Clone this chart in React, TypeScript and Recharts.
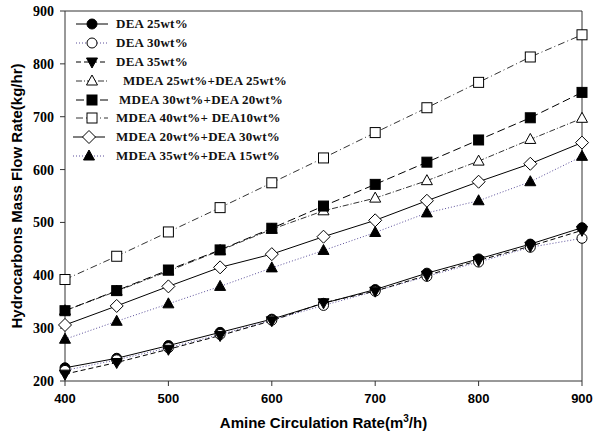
import * as React from "react";
import { Line, LineChart, ReferenceLine, XAxis, YAxis } from "recharts";

const rates = [400, 450, 500, 550, 600, 650, 700, 750, 800, 850, 900];
const dea25 = [225, 243, 267, 292, 317, 347, 373, 404, 431, 459, 490];
const dea30 = [220, 240, 263, 288, 315, 343, 370, 398, 425, 453, 470];
const dea35 = [213, 235, 260, 286, 314, 348, 370, 400, 428, 455, 485];
const mdea25dea25 = [333, 370, 408, 447, 487, 522, 546, 579, 616, 657, 697];
const mdea30dea20 = [333, 371, 410, 448, 489, 531, 572, 614, 656, 698, 746];
const mdea40dea10 = [392, 436, 482, 528, 575, 622, 670, 717, 765, 813, 855];
const mdea20dea30 = [306, 342, 379, 415, 440, 473, 504, 541, 577, 611, 651];
const mdea35dea15 = [279, 313, 346, 379, 414, 447, 481, 518, 541, 577, 625];

const xTicks = [400, 500, 600, 700, 800, 900];
const yTicks = [200, 300, 400, 500, 600, 700, 800, 900];

type Shape = "circle" | "triangleUp" | "triangleDown" | "square" | "diamond";

// lineShift / textShift only nudge the hand-made legend rows
const series = [
  { key: "dea25", name: "DEA 25wt%", values: dea25, shape: "circle" as Shape, filled: true, color: "#000", dash: "", lineShift: 0, textShift: 0 },
  { key: "dea30", name: "DEA 30wt%", values: dea30, shape: "circle" as Shape, filled: false, color: "#5b4f9a", dash: "1 2", lineShift: 0, textShift: 0 },
  { key: "dea35", name: "DEA 35wt%", values: dea35, shape: "triangleDown" as Shape, filled: true, color: "#000", dash: "5 3", lineShift: 0, textShift: 0 },
  { key: "m25d25", name: "MDEA 25wt%+DEA 25wt%", values: mdea25dea25, shape: "triangleUp" as Shape, filled: false, color: "#333", dash: "6 2 1 2", lineShift: 0, textShift: 7 },
  { key: "m30d20", name: "MDEA 30wt%+DEA 20wt%", values: mdea30dea20, shape: "square" as Shape, filled: true, color: "#000", dash: "8 4", lineShift: 0, textShift: 3 },
  { key: "m40d10", name: "MDEA 40wt%+ DEA10wt%", values: mdea40dea10, shape: "square" as Shape, filled: false, color: "#333", dash: "7 3 1 3", lineShift: 0, textShift: 0 },
  { key: "m20d30", name: "MDEA 20wt%+DEA 30wt%", values: mdea20dea30, shape: "diamond" as Shape, filled: false, color: "#000", dash: "", lineShift: -3, textShift: 0 },
  { key: "m35d15", name: "MDEA 35wt%+DEA 15wt%", values: mdea35dea15, shape: "triangleUp" as Shape, filled: true, color: "#5b4f9a", dash: "1 2", lineShift: -3, textShift: 0 },
];

const data = rates.map((rate, i) => {
  const row: Record<string, number> = { rate };
  series.forEach((s) => {
    row[s.key] = s.values[i];
  });
  return row;
});

const Marker = ({ cx, cy, shape, filled }: { cx: number; cy: number; shape: Shape; filled: boolean }) => {
  const fill = filled ? "#000" : "#fff";
  const common = { fill, stroke: "#000", strokeWidth: 1 };
  switch (shape) {
    case "circle":
      return <circle cx={cx} cy={cy} r={5} {...common} />;
    case "triangleUp":
      return <polygon points={`${cx},${cy - 6} ${cx - 5.5},${cy + 4} ${cx + 5.5},${cy + 4}`} {...common} />;
    case "triangleDown":
      return <polygon points={`${cx},${cy + 6} ${cx - 5.5},${cy - 4} ${cx + 5.5},${cy - 4}`} {...common} />;
    case "square":
      return <rect x={cx - 5} y={cy - 5} width={10} height={10} {...common} />;
    case "diamond":
      return <polygon points={`${cx},${cy - 6.5} ${cx + 6.5},${cy} ${cx},${cy + 6.5} ${cx - 6.5},${cy}`} {...common} />;
  }
  return null;
};

const makeDot = (shape: Shape, filled: boolean) => (props: any) => (
  <g key={`dot-${props.index}`}>
    <Marker cx={props.cx} cy={props.cy} shape={shape} filled={filled} />
  </g>
);

const XTitle = (props: any) => {
  const vb = props.viewBox;
  return (
    <text
      x={vb.x + vb.width / 2}
      y={vb.y + 47}
      textAnchor="middle"
      fontFamily="Liberation Sans, Arial, sans-serif"
      fontWeight="bold"
      fontSize={15}
      fill="#000"
    >
      Amine Circulation Rate(m
      <tspan dy={-6} fontSize={10}>3</tspan>
      <tspan dy={6}>/h)</tspan>
    </text>
  );
};

const YTitle = (props: any) => {
  const vb = props.viewBox;
  const cx = 16;
  const cy = vb.y + vb.height / 2;
  return (
    <text
      x={cx}
      y={cy}
      transform={`rotate(-90, ${cx}, ${cy})`}
      textAnchor="middle"
      dominantBaseline="central"
      fontFamily="Liberation Sans, Arial, sans-serif"
      fontWeight="bold"
      fontSize={15}
      fill="#000"
    >
      Hydrocarbons Mass Flow Rate(kg/hr)
    </text>
  );
};

const LegendBox = () => (
  <div
    style={{
      position: "absolute",
      left: 74,
      top: 15,
      fontFamily: "Liberation Serif, 'Times New Roman', serif",
      fontWeight: "bold",
      fontSize: 13,
      letterSpacing: 0.25,
      color: "#111",
    }}
  >
    {series.map((s) => (
      <div key={s.key} style={{ display: "flex", alignItems: "center", height: 18.8 }}>
        <svg width={36} height={14} style={{ marginLeft: s.lineShift, marginRight: 6 - s.lineShift + s.textShift }}>
          <line x1={2} y1={7} x2={34} y2={7} stroke={s.color} strokeWidth={1} strokeDasharray={s.dash || undefined} />
          <Marker cx={18} cy={7} shape={s.shape} filled={s.filled} />
        </svg>
        <span>{s.name}</span>
      </div>
    ))}
  </div>
);

export default function App() {
  return (
    <div style={{ position: "absolute", left: 0, top: 0, width: 599, height: 442, background: "#fff" }}>
      <LineChart width={599} height={442} data={data} margin={{ top: 11, right: 17, left: 0, bottom: 0 }}>
        <XAxis
          dataKey="rate"
          type="number"
          domain={[400, 900]}
          ticks={xTicks}
          height={61}
          stroke="#333"
          tickSize={5}
          tickMargin={8}
          tick={{ fill: "#000", fontSize: 13, fontWeight: "bold", fontFamily: "Liberation Sans, Arial, sans-serif" }}
          label={<XTitle />}
        />
        <YAxis
          type="number"
          domain={[200, 900]}
          ticks={yTicks}
          width={65}
          stroke="#333"
          tickSize={5}
          tickMargin={6}
          tick={{ fill: "#000", fontSize: 14, fontWeight: "bold", fontFamily: "Liberation Serif, 'Times New Roman', serif" }}
          label={<YTitle />}
        />
        <ReferenceLine y={900} stroke="#333" />
        <ReferenceLine x={900} stroke="#333" />
        {series.map((s) => (
          <Line
            key={s.key}
            dataKey={s.key}
            name={s.name}
            type="linear"
            stroke={s.color}
            strokeWidth={1}
            strokeDasharray={s.dash || undefined}
            dot={makeDot(s.shape, s.filled)}
            activeDot={false}
            isAnimationActive={false}
          />
        ))}
      </LineChart>
      <LegendBox />
    </div>
  );
}
